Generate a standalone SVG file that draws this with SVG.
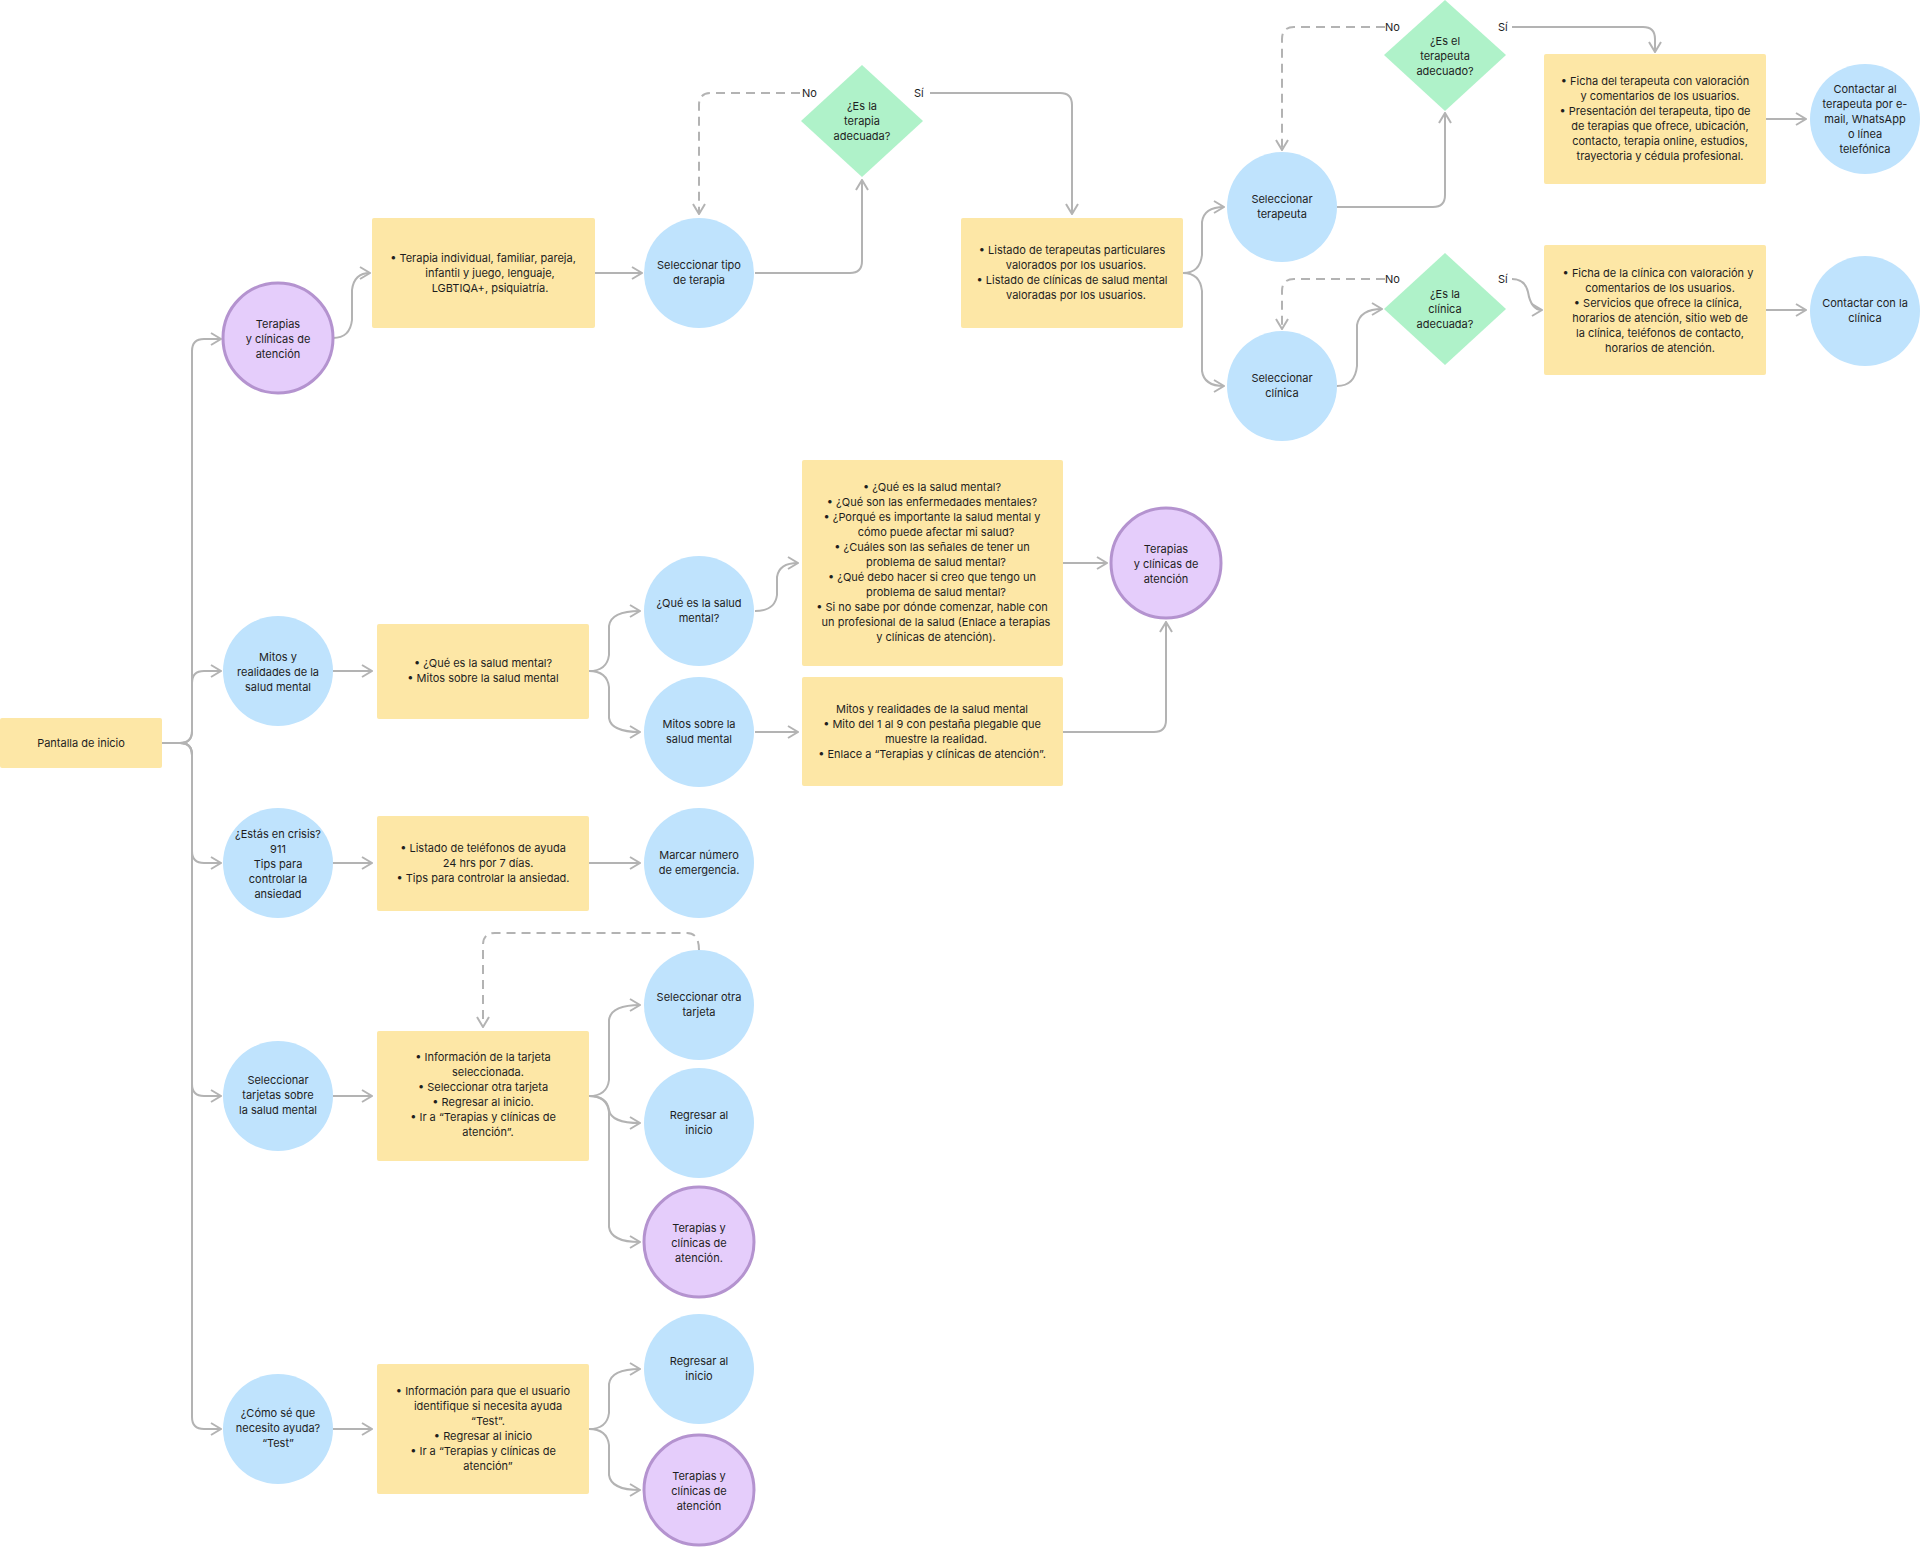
<svg xmlns="http://www.w3.org/2000/svg" width="1920" height="1547" viewBox="0 0 1920 1547">
<style>
.r{fill:#fde7a6}
.b{fill:#bfe3fd}
.p{fill:#e5cdfb;stroke:#b493cf;stroke-width:3}
.d{fill:#aff2c9}
text{font-family:Inter,"Liberation Sans",sans-serif;font-size:11px;fill:#1e1e1e;text-anchor:middle}
.c path{fill:none;stroke:#b3b3b3;stroke-width:2;marker-end:url(#a)}
.c path.ds{stroke-dasharray:9 6}
.c text{text-anchor:start}
</style>
<defs>
<marker id="a" viewBox="0 0 12 14" refX="11" refY="7" markerWidth="12" markerHeight="14" markerUnits="userSpaceOnUse" orient="auto"><polyline points="1,1 11,7 1,13" fill="none" stroke="#b3b3b3" stroke-width="2"/></marker>
</defs>
<rect width="1920" height="1547" fill="#fff"/>
<g class="c" id="connectors">
<path d="M162,743 H180 Q192,743 192,731 V351 Q192,339 204,339 H221"/>
<path d="M162,743 H180 Q192,743 192,731 V683 Q192,671 204,671 H221"/>
<path d="M162,743 H180 Q192,743 192,755 V851 Q192,863 204,863 H221"/>
<path d="M162,743 H180 Q192,743 192,755 V1084 Q192,1096 204,1096 H221"/>
<path d="M162,743 H180 Q192,743 192,755 V1417 Q192,1429 204,1429 H221"/>
<path d="M333,338 Q350,338 352,320 V290 Q354,273 370,273"/>
<path d="M595,273 H642"/>
<path d="M755,273 H850 Q862,273 862,261 V180"/>
<path class="ds" d="M800,93 H711 Q699,93 699,105 V214"/>
<path d="M930,93 H1060 Q1072,93 1072,105 V214"/>
<path d="M1183,273 Q1200,273 1202,255 V222 Q1204,207 1224,207"/>
<path d="M1183,273 Q1200,273 1202,291 V371 Q1204,386 1224,386"/>
<path d="M1337,207 H1433 Q1445,207 1445,195 V113"/>
<path class="ds" d="M1385,27 H1294 Q1282,27 1282,39 V150"/>
<path d="M1512,27 H1643 Q1655,27 1655,39 V52"/>
<path d="M1766,119 H1806"/>
<path d="M1337,386 Q1355,386 1357,366 V325 Q1360,309 1382,309"/>
<path class="ds" d="M1385,279 H1294 Q1282,279 1282,291 V329"/>
<path d="M1512,279 Q1525,279 1528,292 Q1531,310 1542,310"/>
<path d="M1766,310 H1806"/>
<path d="M333,671 H372"/>
<path d="M589,671 Q607,671 609,655 V626 Q611,611 640,611"/>
<path d="M589,671 Q607,671 609,687 V718 Q611,732 640,732"/>
<path d="M755,611 Q775,611 777,595 V577 Q779,563 798,563"/>
<path d="M1063,563 H1107"/>
<path d="M755,732 H798"/>
<path d="M1063,732 H1154 Q1166,732 1166,720 V622"/>
<path d="M333,863 H372"/>
<path d="M589,863 H640"/>
<path d="M333,1096 H372"/>
<path d="M589,1096 Q607,1096 609,1080 V1020 Q611,1005 640,1005"/>
<path d="M589,1096 Q607,1096 609,1110 Q611,1123 640,1123"/>
<path d="M589,1096 Q607,1096 609,1112 V1227 Q611,1242 640,1242"/>
<path class="ds" d="M699,950 Q699,933 687,933 H495 Q483,933 483,945 V1027"/>
<path d="M333,1429 H372"/>
<path d="M589,1429 Q607,1429 609,1413 V1384 Q611,1369 640,1369"/>
<path d="M589,1429 Q607,1429 609,1445 V1475 Q611,1490 640,1490"/>
<text x="802" y="97">No</text><text x="914" y="97">Sí</text>
<text x="1385" y="31">No</text><text x="1498" y="31">Sí</text>
<text x="1385" y="283">No</text><text x="1498" y="283">Sí</text>
</g>
<g id="inicio"><rect class="r" x="0" y="718" width="162" height="50" rx="2"/><text x="81" y="747">Pantalla de inicio</text></g>
<g id="terapias1"><circle class="p" cx="278" cy="338" r="55"/><text x="278" y="328">Terapias</text><text x="278" y="343">y clínicas de</text><text x="278" y="358">atención</text></g>
<g id="tiposrect"><rect class="r" x="372" y="218" width="223" height="110" rx="2"/><text x="483" y="262">• Terapia individual, familiar, pareja,</text><text x="490" y="277">infantil y juego, lenguaje,</text><text x="490" y="292">LGBTIQA+, psiquiatría.</text></g>
<g id="seltipo"><circle class="b" cx="699" cy="273" r="55"/><text x="699" y="269">Seleccionar tipo</text><text x="699" y="284">de terapia</text></g>
<g id="dterapia"><polygon class="d" points="862,65 923,121 862,177 801,121"/><text x="862" y="110">¿Es la</text><text x="862" y="125">terapia</text><text x="862" y="140">adecuada?</text></g>
<g id="listado"><rect class="r" x="961" y="218" width="222" height="110" rx="2"/><text x="1072" y="254">• Listado de terapeutas particulares</text><text x="1076" y="269">valorados por los usuarios.</text><text x="1072" y="284">• Listado de clínicas de salud mental</text><text x="1076" y="299">valoradas por los usuarios.</text></g>
<g id="selterapeuta"><circle class="b" cx="1282" cy="207" r="55"/><text x="1282" y="203">Seleccionar</text><text x="1282" y="218">terapeuta</text></g>
<g id="selclinica"><circle class="b" cx="1282" cy="386" r="55"/><text x="1282" y="382">Seleccionar</text><text x="1282" y="397">clínica</text></g>
<g id="dterapeuta"><polygon class="d" points="1445,0 1506,55 1445,111 1384,55"/><text x="1445" y="45">¿Es el</text><text x="1445" y="60">terapeuta</text><text x="1445" y="75">adecuado?</text></g>
<g id="dclinica"><polygon class="d" points="1445,253 1506,309 1445,365 1384,309"/><text x="1445" y="298">¿Es la</text><text x="1445" y="313">clínica</text><text x="1445" y="328">adecuada?</text></g>
<g id="fichater"><rect class="r" x="1544" y="54" width="222" height="130" rx="2"/><text x="1655" y="85">• Ficha del terapeuta con valoración</text><text x="1660" y="100">y comentarios de los usuarios.</text><text x="1655" y="115">• Presentación del terapeuta, tipo de</text><text x="1660" y="130">de terapias que ofrece, ubicación,</text><text x="1660" y="145">contacto, terapia online, estudios,</text><text x="1660" y="160">trayectoria y cédula profesional.</text></g>
<g id="contter"><circle class="b" cx="1865" cy="119" r="55"/><text x="1865" y="93">Contactar al</text><text x="1865" y="108">terapeuta por e-</text><text x="1865" y="123">mail, WhatsApp</text><text x="1865" y="138">o línea</text><text x="1865" y="153">telefónica</text></g>
<g id="fichacli"><rect class="r" x="1544" y="245" width="222" height="130" rx="2"/><text x="1658" y="277">• Ficha de la clínica con valoración y</text><text x="1660" y="292">comentarios de los usuarios.</text><text x="1658" y="307">• Servicios que ofrece la clínica,</text><text x="1660" y="322">horarios de atención, sitio web de</text><text x="1660" y="337">la clínica, teléfonos de contacto,</text><text x="1660" y="352">horarios de atención.</text></g>
<g id="contcli"><circle class="b" cx="1865" cy="311" r="55"/><text x="1865" y="307">Contactar con la</text><text x="1865" y="322">clínica</text></g>
<g id="mitos"><circle class="b" cx="278" cy="671" r="55"/><text x="278" y="661">Mitos y</text><text x="278" y="676">realidades de la</text><text x="278" y="691">salud mental</text></g>
<g id="mitosrect"><rect class="r" x="377" y="624" width="212" height="95" rx="2"/><text x="483" y="667">• ¿Qué es la salud mental?</text><text x="483" y="682">• Mitos sobre la salud mental</text></g>
<g id="quees"><circle class="b" cx="699" cy="611" r="55"/><text x="699" y="607">¿Qué es la salud</text><text x="699" y="622">mental?</text></g>
<g id="mitossobre"><circle class="b" cx="699" cy="732" r="55"/><text x="699" y="728">Mitos sobre la</text><text x="699" y="743">salud mental</text></g>
<g id="bigrect"><rect class="r" x="802" y="460" width="261" height="206" rx="2"/><text x="932" y="491">• ¿Qué es la salud mental?</text><text x="932" y="506">• ¿Qué son las enfermedades mentales?</text><text x="932" y="521">• ¿Porqué es importante la salud mental y</text><text x="936" y="536">cómo puede afectar mi salud?</text><text x="932" y="551">• ¿Cuáles son las señales de tener un</text><text x="936" y="566">problema de salud mental?</text><text x="932" y="581">• ¿Qué debo hacer si creo que tengo un</text><text x="936" y="596">problema de salud mental?</text><text x="932" y="611">• Si no sabe por dónde comenzar, hable con</text><text x="936" y="626">un profesional de la salud (Enlace a terapias</text><text x="936" y="641">y clínicas de atención).</text></g>
<g id="mitosreal"><rect class="r" x="802" y="677" width="261" height="109" rx="2"/><text x="932" y="713">Mitos y realidades de la salud mental</text><text x="932" y="728">• Mito del 1 al 9 con pestaña plegable que</text><text x="936" y="743">muestre la realidad.</text><text x="932" y="758">• Enlace a “Terapias y clínicas de atención”.</text></g>
<g id="terapias2"><circle class="p" cx="1166" cy="563" r="55"/><text x="1166" y="553">Terapias</text><text x="1166" y="568">y clínicas de</text><text x="1166" y="583">atención</text></g>
<g id="crisis"><circle class="b" cx="278" cy="863" r="55"/><text x="278" y="838">¿Estás en crisis?</text><text x="278" y="853">911</text><text x="278" y="868">Tips para</text><text x="278" y="883">controlar la</text><text x="278" y="898">ansiedad</text></g>
<g id="crisisrect"><rect class="r" x="377" y="816" width="212" height="95" rx="2"/><text x="483" y="852">• Listado de teléfonos de ayuda</text><text x="488" y="867">24 hrs por 7 días.</text><text x="483" y="882">• Tips para controlar la ansiedad.</text></g>
<g id="marcar"><circle class="b" cx="699" cy="863" r="55"/><text x="699" y="859">Marcar número</text><text x="699" y="874">de emergencia.</text></g>
<g id="tarjetas"><circle class="b" cx="278" cy="1096" r="55"/><text x="278" y="1084">Seleccionar</text><text x="278" y="1099">tarjetas sobre</text><text x="278" y="1114">la salud mental</text></g>
<g id="tarjrect"><rect class="r" x="377" y="1031" width="212" height="130" rx="2"/><text x="483" y="1061">• Información de la tarjeta</text><text x="488" y="1076">seleccionada.</text><text x="483" y="1091">• Seleccionar otra tarjeta</text><text x="483" y="1106">• Regresar al inicio.</text><text x="483" y="1121">• Ir a “Terapias y clínicas de</text><text x="488" y="1136">atención”.</text></g>
<g id="otratarj"><circle class="b" cx="699" cy="1005" r="55"/><text x="699" y="1001">Seleccionar otra</text><text x="699" y="1016">tarjeta</text></g>
<g id="regresar1"><circle class="b" cx="699" cy="1123" r="55"/><text x="699" y="1119">Regresar al</text><text x="699" y="1134">inicio</text></g>
<g id="terapias3"><circle class="p" cx="699" cy="1242" r="55"/><text x="699" y="1232">Terapias y</text><text x="699" y="1247">clínicas de</text><text x="699" y="1262">atención.</text></g>
<g id="comose"><circle class="b" cx="278" cy="1429" r="55"/><text x="278" y="1417">¿Cómo sé que</text><text x="278" y="1432">necesito ayuda?</text><text x="278" y="1447">“Test”</text></g>
<g id="testrect"><rect class="r" x="377" y="1364" width="212" height="130" rx="2"/><text x="483" y="1395">• Información para que el usuario</text><text x="488" y="1410">identifique si necesita ayuda</text><text x="488" y="1425">“Test”.</text><text x="483" y="1440">• Regresar al inicio</text><text x="483" y="1455">• Ir a “Terapias y clínicas de</text><text x="488" y="1470">atención”</text></g>
<g id="regresar2"><circle class="b" cx="699" cy="1369" r="55"/><text x="699" y="1365">Regresar al</text><text x="699" y="1380">inicio</text></g>
<g id="terapias4"><circle class="p" cx="699" cy="1490" r="55"/><text x="699" y="1480">Terapias y</text><text x="699" y="1495">clínicas de</text><text x="699" y="1510">atención</text></g>
</svg>
